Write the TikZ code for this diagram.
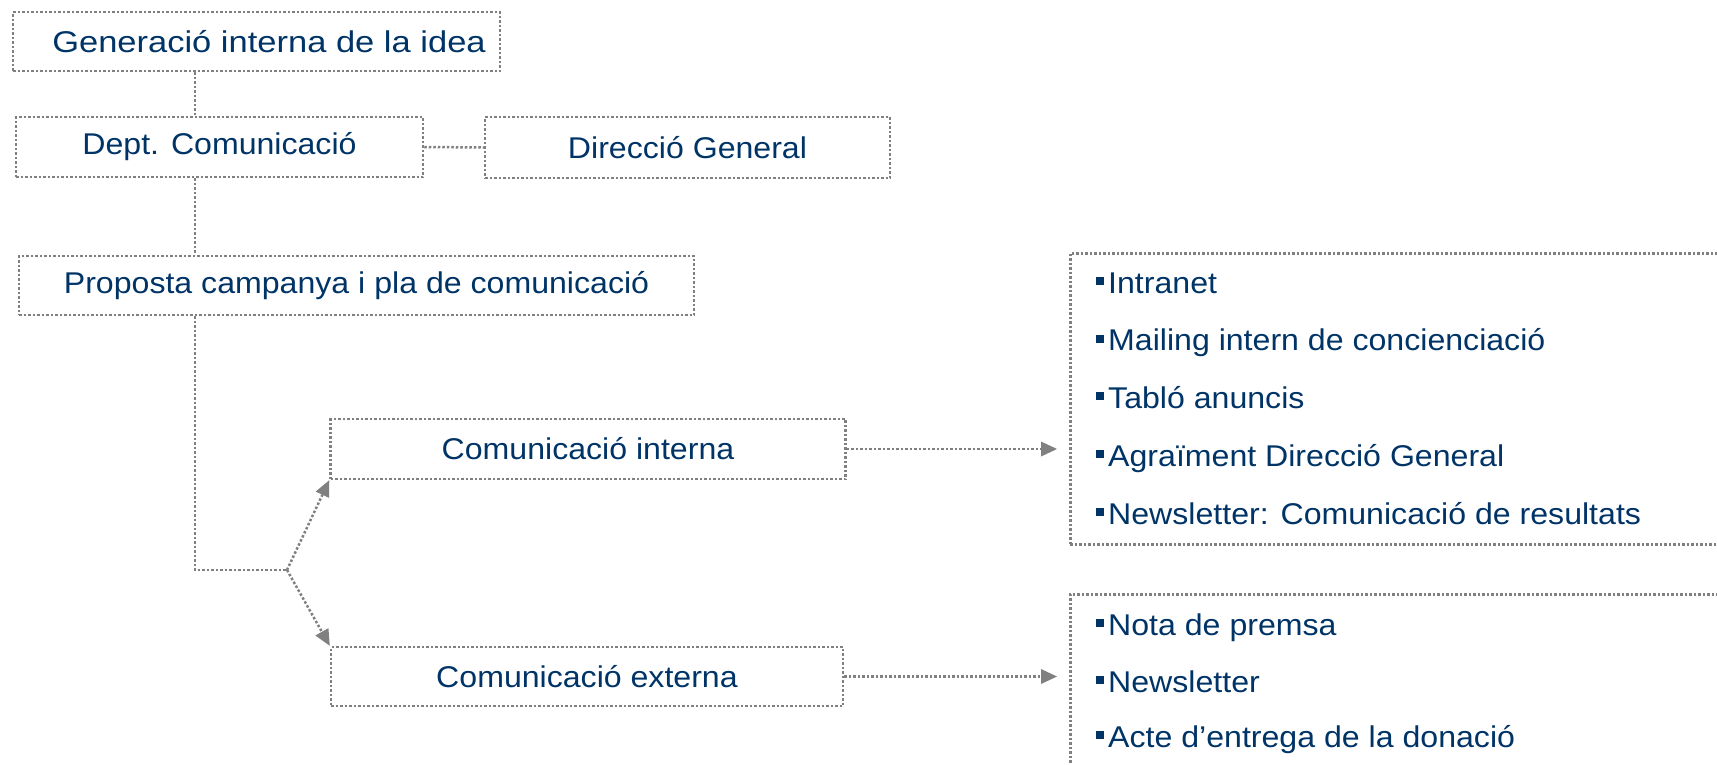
\documentclass[tikz,border=0pt]{standalone}
\usepackage{fontspec}
\setmainfont{Liberation Sans}
\newfontfamily\boxfont[FakeStretch=1.07]{Liberation Sans}
\newfontfamily\wideboxfont[FakeStretch=1.15]{Liberation Sans}
\newfontfamily\listfont[FakeStretch=1.07]{Liberation Sans}
\usetikzlibrary{arrows.meta}
\definecolor{navy}{RGB}{0,51,102}
\definecolor{lgray}{RGB}{128,128,128}
\tikzset{
  dotline/.style={draw=lgray, line width=2.5pt, dash pattern=on 2.5pt off 2pt},
  boxnode/.style={dotline, inner sep=0pt, text=navy, font=\boxfont\fontsize{30}{35}\selectfont},
  listitem/.style={anchor=base west, inner sep=0pt, text=navy, font=\listfont\fontsize{30}{35}\selectfont},
  arr/.style={dotline, -{Triangle[length=16pt,width=15pt,fill=lgray,line width=0pt]}},
}
\newcommand{\bul}{\textcolor{navy}{\rule[8pt]{8pt}{8pt}}\hspace{4pt}}
\begin{document}
\begin{tikzpicture}[x=1pt,y=-1pt]
\useasboundingbox (0,0) rectangle (1717,764);
\clip (0,0) rectangle (1717,764);
\node[boxnode, font=\wideboxfont\fontsize{30}{35}\selectfont, minimum width=487pt, minimum height=59pt] (b1) at (256.5,41.5) {\hspace*{25pt}Generació interna de la idea};
\node[boxnode, minimum width=407pt, minimum height=60pt] (b2) at (219.5,147) {Dept. Comunicació};
\node[boxnode, minimum width=405pt, minimum height=61pt] (b3) at (687.5,147.5) {Direcció General};
\node[boxnode, minimum width=675pt, minimum height=59pt] (b4) at (356.5,285.5) {Proposta campanya i pla de comunicació};
\node[boxnode, minimum width=515pt, minimum height=60pt] (b5) at (588,449) {Comunicació interna};
\node[boxnode, minimum width=512pt, minimum height=59pt] (b6) at (587,676.5) {Comunicació externa};
\node[dotline, inner sep=0pt, anchor=north west, minimum width=680pt, minimum height=291pt] (ri) at (1069,252) {};
\node[dotline, inner sep=0pt, anchor=north west, minimum width=680pt, minimum height=220pt] (re) at (1069,593) {};
\node[listitem] (i1) at (1096,293) {\bul Intranet};
\node[listitem] (i2) at (1096,350.5) {\bul Mailing intern de concienciació};
\node[listitem] (i3) at (1096,408) {\bul Tabló anuncis};
\node[listitem] (i4) at (1096,466) {\bul Agraïment Direcció General};
\node[listitem] (i5) at (1096,524) {\bul Newsletter: Comunicació de resultats};
\node[listitem] (e1) at (1096,635) {\bul Nota de premsa};
\node[listitem] (e2) at (1096,692) {\bul Newsletter};
\node[listitem] (e3) at (1096,747) {\bul Acte d’entrega de la donació};
\coordinate (jx) at (195,0);
\coordinate (fork) at (287,570);
\draw[dotline] (b1.south -| jx) -- (b2.north -| jx);
\draw[dotline] (b2.east) -- (b3.west);
\draw[dotline] (b2.south -| jx) -- (b4.north -| jx);
\draw[dotline] (b4.south -| jx) -- (jx |- fork) -- (fork);
\draw[arr] (fork) -- (b5.south west);
\draw[arr] (fork) -- (b6.north west);
\draw[arr, shorten >=12pt] (b5.east) -- (ri.west |- b5.east);
\draw[arr, shorten >=12pt] (b6.east) -- (re.west |- b6.east);
\end{tikzpicture}
\end{document}
